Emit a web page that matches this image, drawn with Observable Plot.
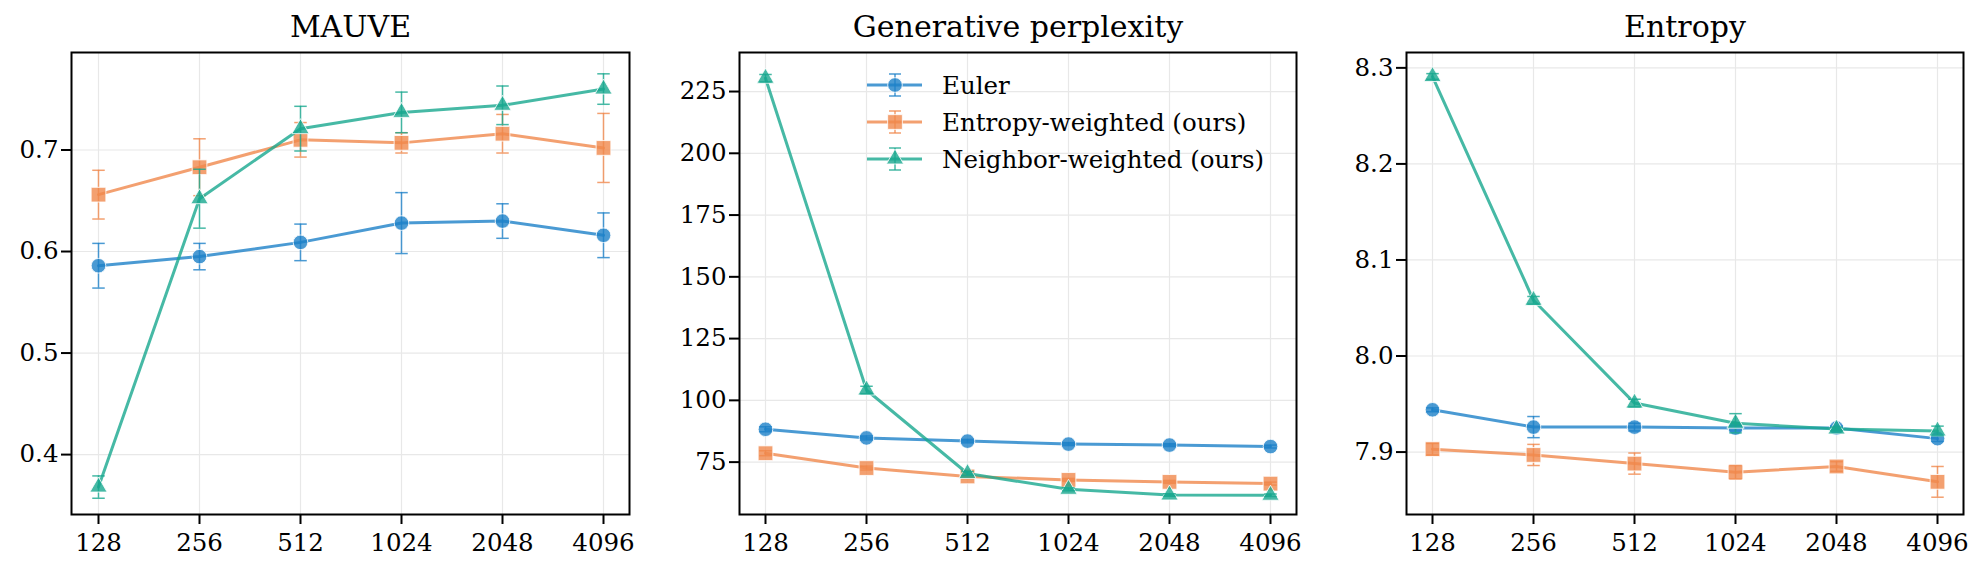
<!DOCTYPE html>
<html>
<head>
<meta charset="utf-8">
<script src="https://cdn.jsdelivr.net/npm/d3@7"></script>
<script src="https://cdn.jsdelivr.net/npm/@observablehq/plot@0.6"></script>
<style>
  html, body { margin: 0; padding: 0; background: #fff; }
  #fig { position: relative; width: 1981px; height: 567px; overflow: hidden; font-family: "DejaVu Serif", serif; }
  #fig svg { position: absolute; top: 0; }
</style>
</head>
<body>
<div id="fig"></div>
<script>
// Sampling steps (x categories) and the three samplers being compared
const steps = ["128", "256", "512", "1024", "2048", "4096"];
const methods = ["Euler", "Entropy-weighted (ours)", "Neighbor-weighted (ours)"];
const colors = ["#1d81c8", "#f0884c", "#18a78e"];
const symbols = ["circle", "square", "triangle"];
const markerR = [7.3, 8.3, 6.4];

// MAUVE (mean, std)
const mauveEuler = [0.586, 0.595, 0.609, 0.628, 0.630, 0.616];
const mauveEulerErr = [0.022, 0.013, 0.018, 0.030, 0.017, 0.022];
const mauveEntropy = [0.656, 0.683, 0.710, 0.707, 0.716, 0.702];
const mauveEntropyErr = [0.024, 0.028, 0.017, 0.010, 0.019, 0.034];
const mauveNeighbor = [0.368, 0.652, 0.721, 0.737, 0.744, 0.760];
const mauveNeighborErr = [0.011, 0.029, 0.022, 0.020, 0.019, 0.015];

// Generative perplexity (mean, std)
const pplEuler = [88.3, 84.8, 83.5, 82.3, 81.9, 81.3];
const pplEulerErr = [1.0, 0.8, 0.7, 0.6, 0.6, 0.6];
const pplEntropy = [78.6, 72.6, 69.2, 67.8, 67.0, 66.3];
const pplEntropyErr = [1.0, 0.8, 0.8, 0.6, 0.6, 0.6];
const pplNeighbor = [230.4, 104.2, 70.4, 64.0, 61.7, 61.6];
const pplNeighborErr = [1.5, 1.5, 0.8, 0.6, 0.5, 0.5];

// Unigram entropy (mean, std)
const entEuler = [7.944, 7.926, 7.926, 7.925, 7.925, 7.914];
const entEulerErr = [0.002, 0.011, 0.004, 0.003, 0.002, 0.003];
const entEntropy = [7.903, 7.897, 7.888, 7.879, 7.885, 7.869];
const entEntropyErr = [0.006, 0.011, 0.011, 0.007, 0.005, 0.016];
const entNeighbor = [8.291, 8.058, 7.951, 7.930, 7.924, 7.922];
const entNeighborErr = [0.003, 0.004, 0.004, 0.010, 0.002, 0.005];

// Axis ticks per panel
const mauveTicks = [0.4, 0.5, 0.6, 0.7];
const pplTicks = [75, 100, 125, 150, 175, 200, 225];
const entTicks = [7.9, 8.0, 8.1, 8.2, 8.3];

const FONT = "DejaVu Serif";
const TICK_FONT = 24.5;

// Horizontal cap for the error bars, drawn as a dot symbol
const capSymbol = {
  draw(ctx, size) {
    const w = Math.sqrt(size);
    ctx.moveTo(-w / 2, 0);
    ctx.lineTo(w / 2, 0);
  }
};
const capR = 12.5 / Math.sqrt(Math.PI);

function rowsFor(means, errs) {
  return methods.flatMap((m, i) =>
    steps.map((s, j) => ({ step: s, method: m, k: i, value: means[i][j], err: errs[i][j] }))
  );
}

function panel({ title, means, errs, domain, ticks, format, left, width, marginLeft, marginRight }) {
  const rows = rowsFor(means, errs);
  const seriesMarks = methods.flatMap((m, i) => {
    const d = rows.filter(r => r.k === i);
    const c = colors[i];
    return [
      Plot.line(d, { x: "step", y: "value", stroke: c, strokeWidth: 3, strokeOpacity: 0.8 }),
      Plot.ruleX(d, { x: "step", y1: r => r.value - r.err, y2: r => r.value + r.err, stroke: c, strokeWidth: 1.5, strokeOpacity: 0.8 }),
      Plot.dot(d, { x: "step", y: "value", symbol: symbols[i], r: markerR[i], fill: c, fillOpacity: 0.8, stroke: "white", strokeWidth: 1, strokeOpacity: 0.8 }),
      Plot.dot(d, { x: "step", y: r => r.value - r.err, symbol: capSymbol, r: capR, fill: "none", stroke: c, strokeWidth: 1.5, strokeOpacity: 0.8 }),
      Plot.dot(d, { x: "step", y: r => r.value + r.err, symbol: capSymbol, r: capR, fill: "none", stroke: c, strokeWidth: 1.5, strokeOpacity: 0.8 })
    ];
  });

  const svg = Plot.plot({
    width,
    height: 567,
    marginTop: 52,
    marginBottom: 53,
    marginLeft,
    marginRight,
    style: { fontFamily: FONT, fontSize: TICK_FONT + "px", color: "black", background: "transparent", overflow: "visible" },
    x: { type: "point", domain: steps, padding: 0.25, label: null },
    y: { domain, label: null },
    marks: [
      Plot.gridX({ stroke: "#e8e8e8", strokeOpacity: 1, strokeWidth: 1.2 }),
      Plot.gridY(ticks, { stroke: "#e8e8e8", strokeOpacity: 1, strokeWidth: 1.2 }),
      ...seriesMarks,
      Plot.frame({ stroke: "black", strokeWidth: 2 }),
      Plot.axisX({ tickSize: 10, tickPadding: 9, strokeWidth: 2, fontSize: TICK_FONT, label: null }),
      Plot.axisY(ticks, { tickSize: 10, tickPadding: 3, strokeWidth: 2, fontSize: TICK_FONT, tickFormat: format, label: null }),
      Plot.text([title], { frameAnchor: "top", lineAnchor: "bottom", dy: -16, fontSize: 30, fill: "black" })
    ]
  });
  svg.style.left = left + "px";
  return svg;
}

const fig = document.getElementById("fig");

fig.append(panel({
  title: "MAUVE",
  means: [mauveEuler, mauveEntropy, mauveNeighbor],
  errs: [mauveEulerErr, mauveEntropyErr, mauveNeighborErr],
  domain: [0.341, 0.796], ticks: mauveTicks, format: d3.format(".1f"),
  left: 0, width: 660, marginLeft: 71, marginRight: 31
}));

fig.append(panel({
  title: "Generative perplexity",
  means: [pplEuler, pplEntropy, pplNeighbor],
  errs: [pplEulerErr, pplEntropyErr, pplNeighborErr],
  domain: [53.8, 240.8], ticks: pplTicks, format: d3.format("d"),
  left: 660, width: 660, marginLeft: 79, marginRight: 24
}));

fig.append(panel({
  title: "Entropy",
  means: [entEuler, entEntropy, entNeighbor],
  errs: [entEulerErr, entEntropyErr, entNeighborErr],
  domain: [7.835, 8.316], ticks: entTicks, format: d3.format(".1f"),
  left: 1320, width: 661, marginLeft: 86, marginRight: 18
}));

// Legend inside the middle panel: line + marker + error bar handle, then label
const legend = d3.create("svg")
  .attr("width", 420).attr("height", 120)
  .style("left", "860px").style("top", "65px")
  .style("font-family", FONT);
methods.forEach((m, i) => {
  const g = legend.append("g").attr("transform", `translate(0,${20 + i * 37})`);
  const c = colors[i];
  g.append("line").attr("x1", 7).attr("x2", 62).attr("y1", 0).attr("y2", 0)
    .attr("stroke", c).attr("stroke-width", 3).attr("stroke-opacity", 0.8);
  g.append("line").attr("x1", 35).attr("x2", 35).attr("y1", -11).attr("y2", 11)
    .attr("stroke", c).attr("stroke-width", 1.5).attr("stroke-opacity", 0.8);
  g.append("path").attr("transform", "translate(35,0)")
    .attr("d", d3.symbol(i === 0 ? d3.symbolCircle : i === 1 ? d3.symbolSquare : d3.symbolTriangle, Math.PI * markerR[i] ** 2)())
    .attr("fill", c).attr("fill-opacity", 0.8).attr("stroke", "white").attr("stroke-opacity", 0.8);
  [-11, 11].forEach(y => g.append("line").attr("x1", 29).attr("x2", 41).attr("y1", y).attr("y2", y)
    .attr("stroke", c).attr("stroke-width", 1.5).attr("stroke-opacity", 0.8));
  g.append("text").attr("x", 82).attr("y", 0).attr("dy", "0.35em")
    .attr("font-size", 24.5).attr("fill", "black").text(m);
});
fig.append(legend.node());
</script>
</body>
</html>
